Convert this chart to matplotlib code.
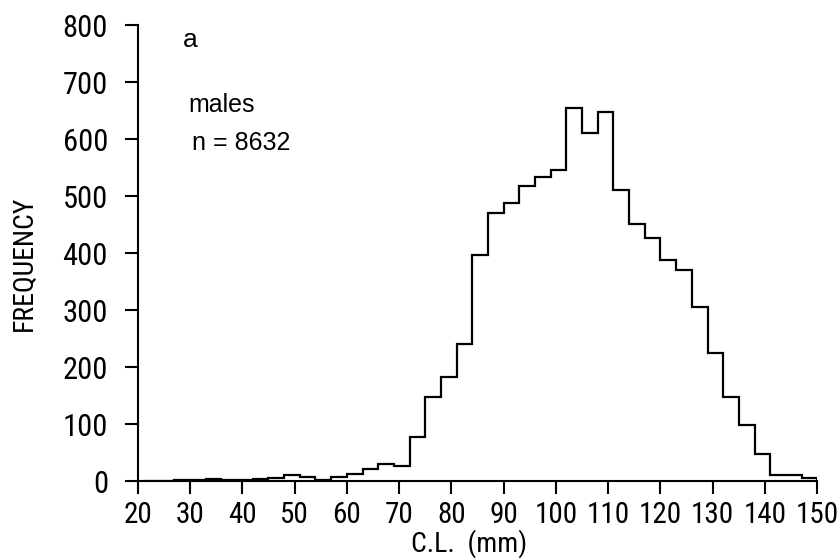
import matplotlib
matplotlib.use("Agg")
import matplotlib.pyplot as plt
import numpy as np

# Carapace-length classes (3 mm wide), lower edges from 21 mm up to 147 mm
bin_edges = list(range(21, 151, 3))
# Number of males in each class
frequency = [
    0, 0, 1, 2, 3, 2, 2, 3, 6, 10, 7, 2, 7, 13, 21, 30, 26,   # 21-72
    78, 148, 183, 241, 396, 471, 488, 518, 533, 545,           # 72-102
    654, 610, 647, 511, 451, 426, 388, 371, 306, 225,          # 102-132
    148, 99, 48, 10, 10, 5,                                    # 132-150
]
x_ticks = list(range(20, 151, 10))
y_ticks = list(range(0, 801, 100))

plot_font = ["Roboto Condensed", "DejaVu Sans"]
note_font = ["Liberation Sans", "DejaVu Sans"]

fig = plt.figure(figsize=(8.4, 5.6), dpi=100)
ax = fig.add_axes([0.164, 0.141, 0.809, 0.814])

ax.stairs(frequency, bin_edges, baseline=0, color="black", linewidth=1.6)

ax.set_xlim(20, 150)
ax.set_ylim(0, 800)
ax.set_xticks(x_ticks)
ax.set_yticks(y_ticks)
ax.set_xticklabels([str(t) for t in x_ticks], family=plot_font,
                   fontstretch="condensed", fontsize=21)
ax.set_yticklabels([str(t) for t in y_ticks], family=plot_font,
                   fontstretch="condensed", fontsize=22)

for side in ("top", "right"):
    ax.spines[side].set_visible(False)
for side in ("left", "bottom"):
    ax.spines[side].set_linewidth(1.5)
ax.tick_params(axis="both", direction="out", length=9.5, width=1.5, color="black")
ax.tick_params(axis="y", pad=12)
ax.tick_params(axis="x", pad=5)

ax.set_xlabel("C.L.  (mm)", family=plot_font, fontstretch="condensed", fontsize=20)
ax.xaxis.set_label_coords(0.487, -0.106)
ax.set_ylabel("FREQUENCY", family=plot_font, fontstretch="condensed", fontsize=20)
ax.yaxis.set_label_coords(-0.147, 0.478)

ax.text(28.6, 761, "a", family=note_font, fontsize=19)
ax.text(29.6, 648, "males", family=note_font, fontsize=18)
ax.text(30.4, 581, "n = 8632", family=note_font, fontsize=18)

fig.savefig("out.png", dpi=100)
